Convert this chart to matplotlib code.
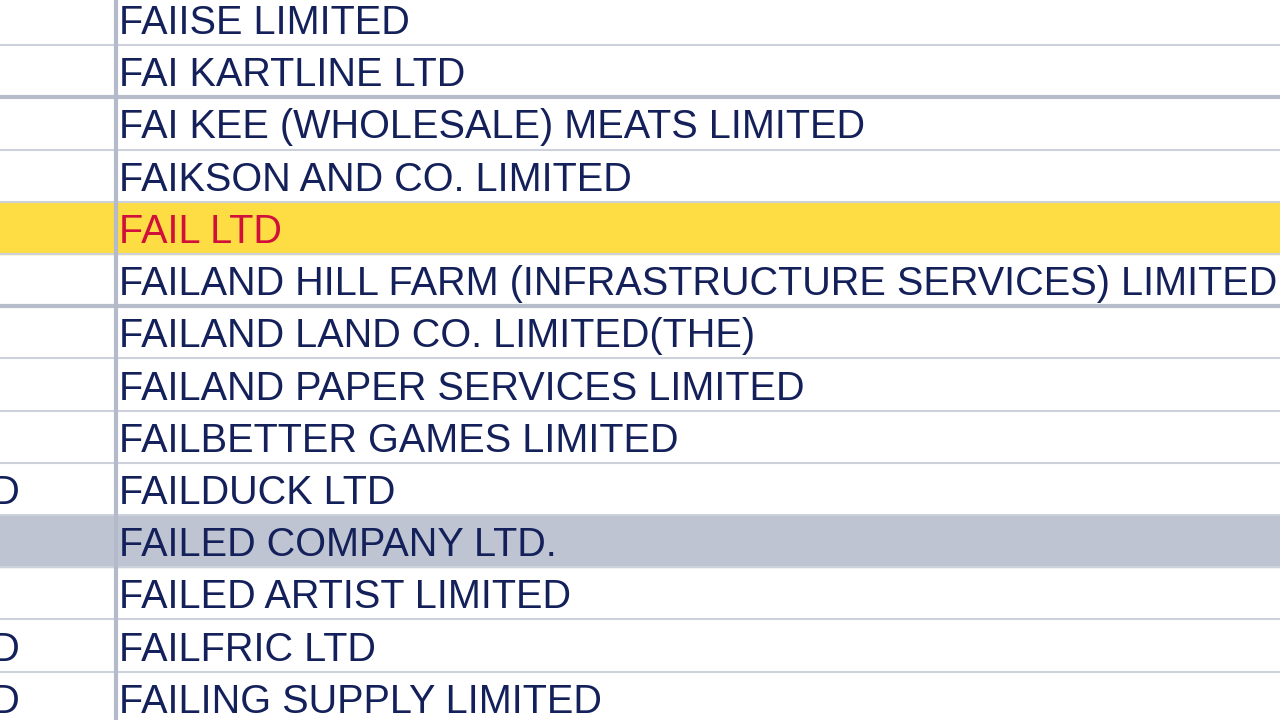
import matplotlib
matplotlib.use("Agg")
import matplotlib.pyplot as plt

names = ["FAIISE LIMITED", "FAI KARTLINE LTD", "FAI KEE (WHOLESALE) MEATS LIMITED",
         "FAIKSON AND CO. LIMITED", "FAIL LTD",
         "FAILAND HILL FARM (INFRASTRUCTURE SERVICES) LIMITED",
         "FAILAND LAND CO. LIMITED(THE)", "FAILAND PAPER SERVICES LIMITED",
         "FAILBETTER GAMES LIMITED", "FAILDUCK LTD", "FAILED COMPANY LTD.",
         "FAILED ARTIST LIMITED", "FAILFRIC LTD", "FAILING SUPPLY LIMITED"]
left_tail = ["", "", "", "", "", "", "", "", "", "LTD", "", "", "LTD", "LTD"]
row_state = ["", "", "", "", "selected", "", "", "", "", "", "hover", "", "", ""]
thick_after = [1, 5]

fig = plt.figure(figsize=(12.8, 7.2), dpi=100)
ax = fig.add_axes([0, 0, 1, 1])
ax.set_xlim(0, 1280); ax.set_ylim(720, 0); ax.axis("off")

row_h = 52.2
y0 = -7
for i, (n, lt, st) in enumerate(zip(names, left_tail, row_state)):
    top = y0 + i * row_h
    if st == "selected":
        ax.add_patch(plt.Rectangle((0, top), 1280, row_h, color="#FDDC44", zorder=0))
    elif st == "hover":
        ax.add_patch(plt.Rectangle((0, top), 1280, row_h, color="#BEC4D2", zorder=0))
    col = "#D0103A" if st == "selected" else "#14205A"
    ax.text(119, top + row_h / 2 + 4, n, fontsize=28.5, family="Liberation Sans",
            color=col, va="center", ha="left", zorder=3)
    if lt:
        ax.text(21, top + row_h / 2 + 4, lt, fontsize=28.5, family="Liberation Sans",
                color=col, va="center", ha="right", zorder=3)
    bottom = top + row_h
    lw = 4 if i in thick_after else 2
    c = "#B8BDCC" if i in thick_after else "#CDD1DC"
    ax.plot([0, 1280], [bottom, bottom], color=c, lw=lw * 0.75, zorder=2)

ax.plot([116, 116], [0, 720], color="#B4BACA", lw=3, zorder=4)
fig.savefig("out.png", dpi=100)
